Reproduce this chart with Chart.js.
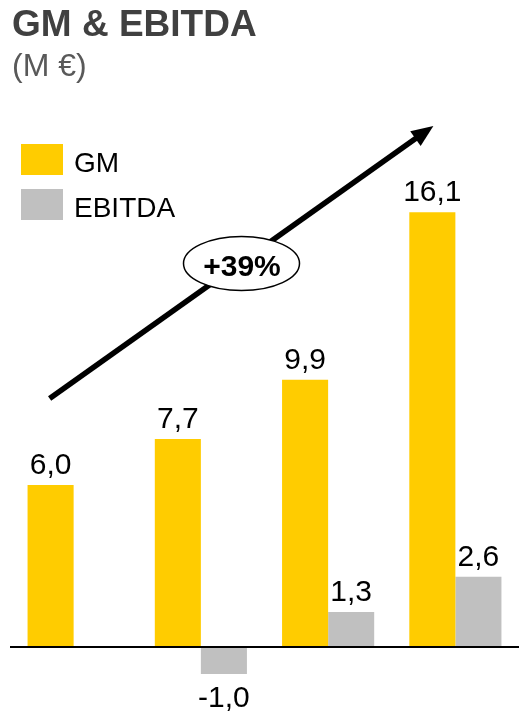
<!DOCTYPE html>
<html>
<head>
<meta charset="utf-8">
<script src="https://cdn.jsdelivr.net/npm/chart.js@4"></script>
<style>
  html, body { margin: 0; padding: 0; background: #fff; }
  #wrap { position: relative; width: 521px; height: 711px; }
  #grafico { position: absolute; left: 0; top: 0; }
  .titulo { position: absolute; left: 12px; top: 3px; font: bold 37px "Liberation Sans", Arial, sans-serif; color: #404040; white-space: nowrap; }
  .sub { position: absolute; left: 12px; top: 47px; font: 32px "Liberation Sans", Arial, sans-serif; color: #595959; white-space: nowrap; }
</style>
</head>
<body>
<div id="wrap">
  <canvas id="grafico" width="521" height="711"></canvas>
  <div class="titulo">GM &amp; EBITDA</div>
  <div class="sub">(M €)</div>
</div>
<script>
const anos = ['1', '2', '3', '4'];
const gm = [6.0, 7.7, 9.9, 16.1];
const ebitda = [null, -1.0, 1.3, 2.6];
const crescimento = '+39%';

const fonte = '"Liberation Sans", Arial, sans-serif';

function fmt(v) {
    return v.toFixed(1).replace('.', ',');
}

// rótulos, legenda, linha do zero e seta
const extras = {
    id: 'extras',
    afterDatasetsDraw(chart) {
        const ctx = chart.ctx;
        const x = chart.scales.x;
        const y = chart.scales.y;

        // linha do zero
        ctx.save();
        ctx.strokeStyle = '#000';
        ctx.lineWidth = 2;
        ctx.beginPath();
        ctx.moveTo(10, y.getPixelForValue(0));
        ctx.lineTo(519, y.getPixelForValue(0));
        ctx.stroke();

        // valores
        ctx.fillStyle = '#000';
        ctx.font = '30px ' + fonte;
        ctx.textAlign = 'center';
        ctx.textBaseline = 'alphabetic';
        chart.data.datasets.forEach((ds, i) => {
            chart.getDatasetMeta(i).data.forEach((bar, j) => {
                const v = ds.data[j];
                if (v === null) return;
                if (v >= 0) ctx.fillText(fmt(v), bar.x, bar.y - 11);
                else ctx.fillText(fmt(v), bar.x, bar.y + 33);
            });
        });

        // legenda
        ctx.textAlign = 'left';
        ctx.font = '28px ' + fonte;
        chart.data.datasets.forEach((ds, i) => {
            const top = 144 + i * 45;
            ctx.fillStyle = ds.backgroundColor;
            ctx.fillRect(21, top, 42, 31);
            ctx.fillStyle = '#000';
            ctx.fillText(ds.label, 74, top + 28);
        });

        // seta
        const x0 = x.getPixelForValue(0) - 24, y0 = y.getPixelForValue(9.2);
        const x1 = x.getPixelForValue(3) - 22, y1 = y.getPixelForValue(19.3);
        const ang = Math.atan2(y1 - y0, x1 - x0);
        ctx.strokeStyle = '#000';
        ctx.lineWidth = 5.5;
        ctx.beginPath();
        ctx.moveTo(x0, y0);
        ctx.lineTo(x1 - 14 * Math.cos(ang), y1 - 14 * Math.sin(ang));
        ctx.stroke();
        ctx.fillStyle = '#000';
        ctx.beginPath();
        ctx.moveTo(x1, y1);
        ctx.lineTo(x1 - 22 * Math.cos(ang) + 9 * Math.sin(ang), y1 - 22 * Math.sin(ang) - 9 * Math.cos(ang));
        ctx.lineTo(x1 - 22 * Math.cos(ang) - 9 * Math.sin(ang), y1 - 22 * Math.sin(ang) + 9 * Math.cos(ang));
        ctx.closePath();
        ctx.fill();

        // elipse
        ctx.fillStyle = '#fff';
        ctx.lineWidth = 1.5;
        ctx.beginPath();
        ctx.ellipse(241.5, 263.5, 58, 27, 0, 0, Math.PI * 2);
        ctx.fill();
        ctx.stroke();
        ctx.fillStyle = '#000';
        ctx.font = 'bold 30px ' + fonte;
        ctx.textAlign = 'center';
        ctx.fillText(crescimento, 242, 276);
        ctx.restore();
    }
};

window.addEventListener('DOMContentLoaded', () => {
    const ctx = document.getElementById('grafico').getContext('2d');

    new Chart(ctx, {
        type: 'bar',
        data: {
            labels: anos,
            datasets: [{
                label: 'GM',
                data: gm,
                backgroundColor: '#FFCC00',
                categoryPercentage: 0.724,
                barPercentage: 1
            }, {
                label: 'EBITDA',
                data: ebitda,
                backgroundColor: '#C0C0C0',
                categoryPercentage: 0.724,
                barPercentage: 1
            }]
        },
        options: {
            responsive: false,
            animation: false,
            layout: { padding: { left: 10, right: 2, top: 107, bottom: 10 } },
            scales: {
                x: { display: false },
                y: { display: false, min: -2, max: 20 }
            },
            plugins: {
                legend: { display: false },
                tooltip: { enabled: false }
            }
        },
        plugins: [extras]
    });
});
</script>
</body>
</html>
